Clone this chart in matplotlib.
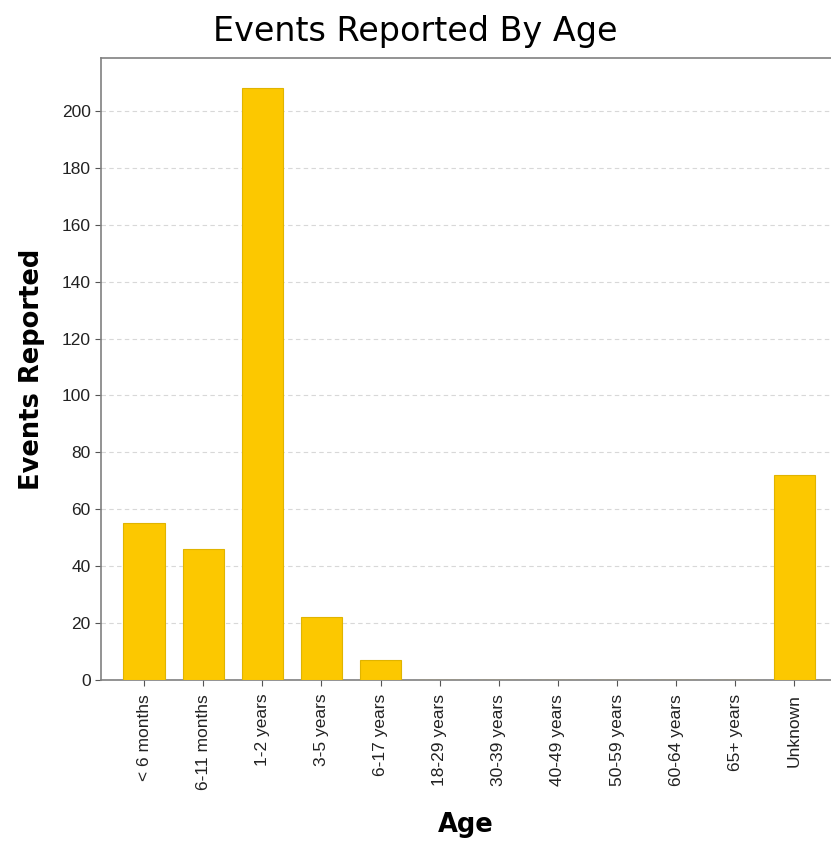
import matplotlib.pyplot as plt
import numpy as np

# age groups and number of reported events
ages = ['< 6 months', '6-11 months', '1-2 years', '3-5 years', '6-17 years',
        '18-29 years', '30-39 years', '40-49 years', '50-59 years',
        '60-64 years', '65+ years', 'Unknown']
events = [55, 46, 208, 22, 7, 0, 0, 0, 0, 0, 0, 72]
y_ticks = [0, 20, 40, 60, 80, 100, 120, 140, 160, 180, 200]

fig = plt.figure(figsize=(8.31, 8.43), dpi=100)
ax = fig.add_axes([0.1215, 0.1934, 0.8785, 0.7378])

x = np.arange(len(ages))
ax.bar(x, events, width=0.7, color='#fcc800', edgecolor='#e0b400', linewidth=0.8, zorder=3)

ax.set_xlim(-0.73, 11.62)
ax.set_ylim(0, 218.6)
ax.set_yticks(y_ticks)
ax.set_xticks(x)
ax.set_xticklabels(ages, rotation=90, fontfamily='Liberation Sans', fontsize=12.5)
for lbl in ax.get_yticklabels():
    lbl.set_fontfamily('Liberation Sans')
    lbl.set_fontsize(12.5)

ax.yaxis.grid(True, linestyle=(0, (4, 3)), color='#d8d8d8', linewidth=0.8, zorder=0)
ax.tick_params(axis='both', colors='#555555', length=4, labelcolor='#222222')
ax.tick_params(axis='x', pad=6)

for side in ['left', 'bottom', 'top']:
    ax.spines[side].set_color('#808080')
    ax.spines[side].set_linewidth(1.2)
ax.spines['right'].set_visible(False)

ax.set_ylabel('Events Reported', fontsize=18.5, fontweight='bold', labelpad=12)
ax.set_xlabel('Age', fontsize=18.5, fontweight='bold', labelpad=16)
fig.suptitle('Events Reported By Age', fontsize=24, y=0.982)

plt.savefig('out.png', dpi=100)
